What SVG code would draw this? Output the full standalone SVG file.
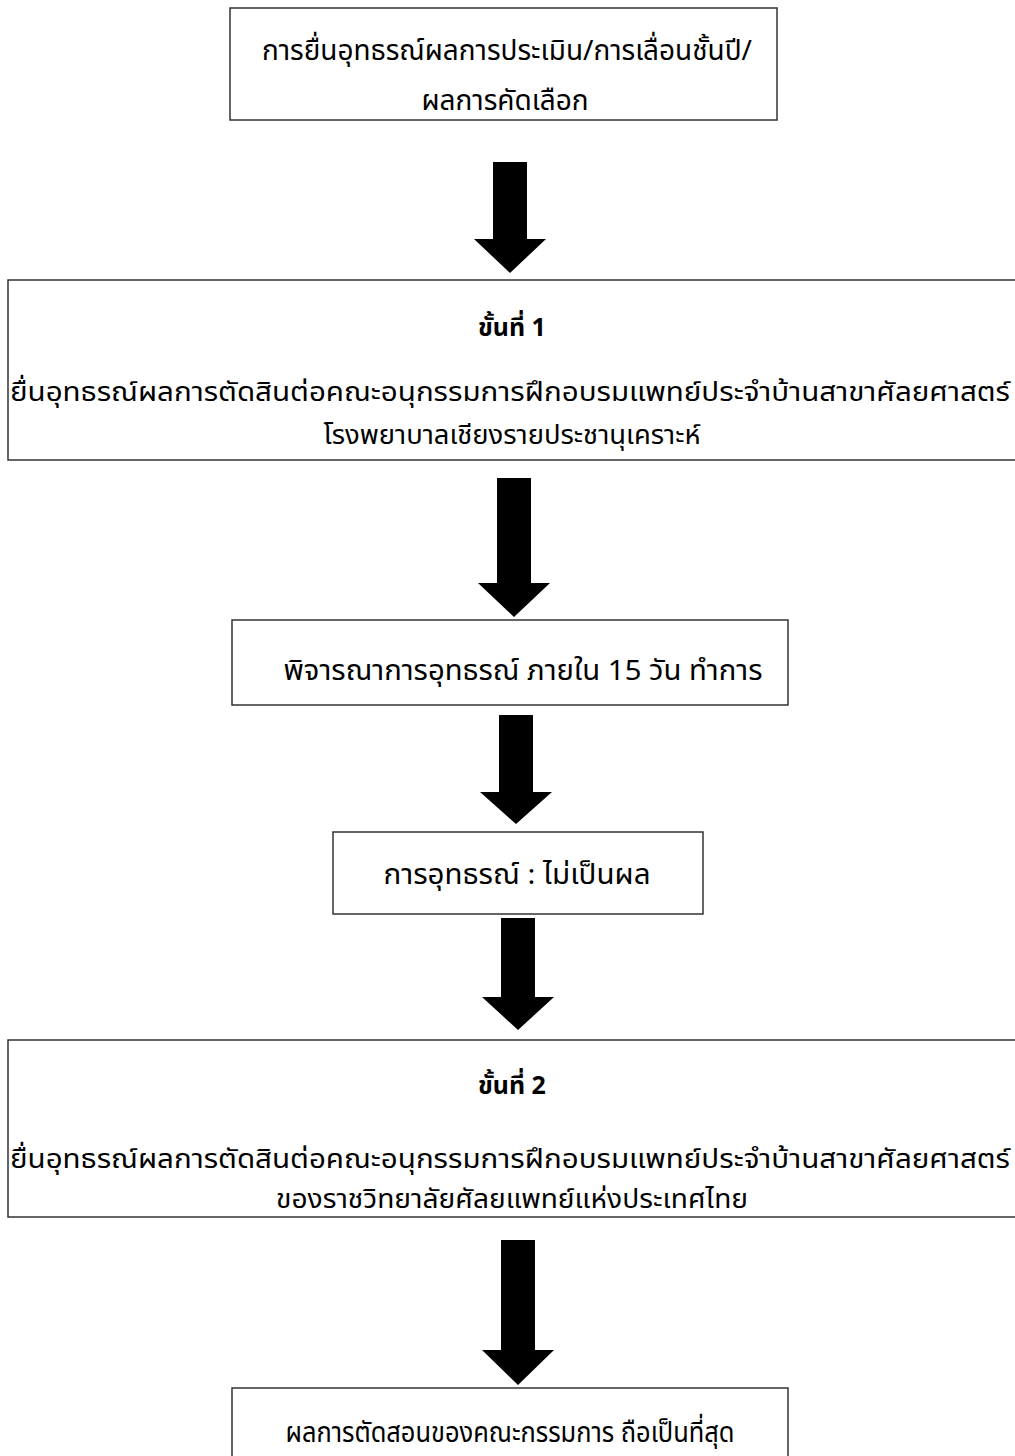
<svg xmlns="http://www.w3.org/2000/svg" width="1015" height="1456" viewBox="0 0 1015 1456">
<style>
.box{fill:#fff;stroke:#333;stroke-width:1.5}
.t{font-family:"Noto Sans Thai","Noto Sans","Liberation Sans",sans-serif;font-size:28px;fill:#000;text-anchor:middle}
.c{font-family:"Noto Sans Thai","Noto Sans","Liberation Sans",sans-serif;font-size:26px;fill:#000;text-anchor:middle}
.b{font-family:"Noto Sans Thai","Noto Sans","Liberation Sans",sans-serif;font-size:25px;font-weight:bold;fill:#000;text-anchor:middle}
.ar{fill:#000}
</style>
<rect width="1015" height="1456" fill="#fff"/>
<g id="n1"><rect class="box" x="230" y="8" width="547" height="112"/>
<text class="t" x="507" y="60" textLength="490" lengthAdjust="spacingAndGlyphs">การยื่นอุทธรณ์ผลการประเมิน/การเลื่อนชั้นปี/</text>
<text class="t" x="505" y="110">ผลการคัดเลือก</text></g>
<g id="n2"><rect class="box" x="8" y="280" width="1020" height="180"/>
<text class="b" x="512" y="336">ขั้นที่ 1</text>
<text class="c" x="510" y="401" textLength="1000" lengthAdjust="spacingAndGlyphs">ยื่นอุทธรณ์ผลการตัดสินต่อคณะอนุกรรมการฝึกอบรมแพทย์ประจำบ้านสาขาศัลยศาสตร์</text>
<text class="c" x="512" y="444" textLength="377" lengthAdjust="spacingAndGlyphs">โรงพยาบาลเชียงรายประชานุเคราะห์</text></g>
<g id="n3"><rect class="box" x="232" y="620" width="556" height="85"/>
<text class="t" x="523" y="680" textLength="479" lengthAdjust="spacingAndGlyphs">พิจารณาการอุทธรณ์ ภายใน 15 วัน ทำการ</text></g>
<g id="n4"><rect class="box" x="333" y="832" width="370" height="82"/>
<text class="t" x="517" y="884" textLength="267" lengthAdjust="spacingAndGlyphs">การอุทธรณ์ : ไม่เป็นผล</text></g>
<g id="n5"><rect class="box" x="8" y="1040" width="1020" height="177"/>
<text class="b" x="512" y="1094">ขั้นที่ 2</text>
<text class="c" x="510" y="1168" textLength="1000" lengthAdjust="spacingAndGlyphs">ยื่นอุทธรณ์ผลการตัดสินต่อคณะอนุกรรมการฝึกอบรมแพทย์ประจำบ้านสาขาศัลยศาสตร์</text>
<text class="c" x="512" y="1208" textLength="472" lengthAdjust="spacingAndGlyphs">ของราชวิทยาลัยศัลยแพทย์แห่งประเทศไทย</text></g>
<g id="n6"><rect class="box" x="232" y="1388" width="556" height="90"/>
<text class="t" x="510" y="1442" textLength="449" lengthAdjust="spacingAndGlyphs">ผลการตัดสอนของคณะกรรมการ ถือเป็นที่สุด</text></g>
<g id="connectors">
<polygon class="ar" points="493,162 527,162 527,239 546,239 510,273 474,239 493,239"/>
<polygon class="ar" points="497,478 531,478 531,583 550,583 514,617 478,583 497,583"/>
<polygon class="ar" points="499,715 533,715 533,792 552,792 516,824 480,792 499,792"/>
<polygon class="ar" points="501,918 535,918 535,997 554,997 518,1030 482,997 501,997"/>
<polygon class="ar" points="501,1240 535,1240 535,1350 554,1350 518,1385 482,1350 501,1350"/>
</g>
</svg>
